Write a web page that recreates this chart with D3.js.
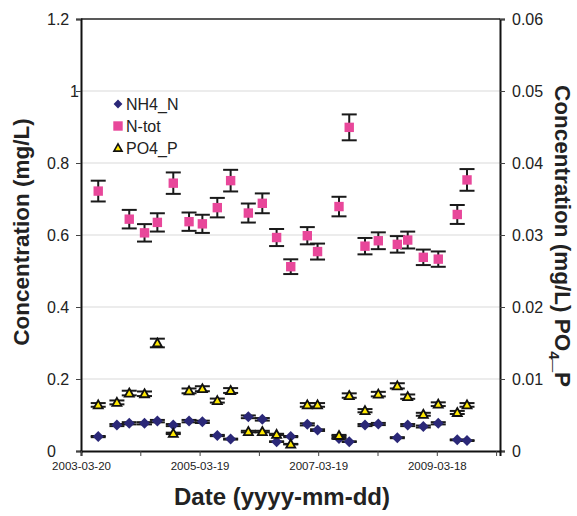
<!DOCTYPE html>
<html>
<head>
<meta charset="utf-8">
<script src="https://cdn.jsdelivr.net/npm/d3@7"></script>
<style>
  html, body { margin: 0; padding: 0; background: #fff; }
  svg { display: block; font-family: "Liberation Sans", Arial, sans-serif; }
</style>
</head>
<body>
<svg id="chart" width="577" height="516"></svg>
<script>
// Sampling dates (shared by all three series)
const sampleDates = [
  "2003-07-04", "2003-10-27", "2004-01-11", "2004-04-14", "2004-07-02", "2004-10-08",
  "2005-01-13", "2005-04-05", "2005-07-06", "2005-09-26", "2006-01-13", "2006-04-09",
  "2006-07-06", "2006-10-01", "2007-01-11", "2007-03-15", "2007-07-25", "2007-09-26",
  "2008-01-01", "2008-03-23", "2008-07-18", "2008-09-20", "2008-12-25", "2009-03-27",
  "2009-07-22", "2009-09-20"
];
// NH4_N, mg/L (left axis)
const nh4N = [
  0.040, 0.072, 0.077, 0.077, 0.083, 0.072,
  0.083, 0.081, 0.043, 0.033, 0.095, 0.088,
  0.026, 0.040, 0.074, 0.058, 0.035, 0.026,
  0.072, 0.075, 0.037, 0.072, 0.068, 0.077,
  0.031, 0.029
];
// N-tot, mg/L (left axis); no sample on 2003-10-27
const nTot = [
  0.722, null, 0.644, 0.606, 0.635, 0.744,
  0.637, 0.631, 0.676, 0.751, 0.661, 0.688,
  0.593, 0.512, 0.598, 0.554, 0.679, 0.899,
  0.569, 0.584, 0.574, 0.586, 0.538, 0.533,
  0.657, 0.753
];
// PO4_P, mg/L (right axis)
const po4P = [
  0.0064, 0.00675, 0.00805, 0.00795, 0.0150, 0.00245,
  0.00835, 0.00865, 0.0070, 0.0084, 0.0027, 0.0027,
  0.0023, 0.00095, 0.0064, 0.0064, 0.00215, 0.0077,
  0.0056, 0.0079, 0.00905, 0.00755, 0.0051, 0.0065,
  0.00535, 0.0064
];
// Relative uncertainty shown by the error bars
const errorFraction = 0.04;

// Axis settings
const xStart = "2003-03-20";
const xEnd = "2010-04-11";
const xTickStepDays = 365;
const xTickCount = 8;
const leftTicks = [0, 0.2, 0.4, 0.6, 0.8, 1, 1.2];
const rightTicks = [0, 0.01, 0.02, 0.03, 0.04, 0.05, 0.06];

const legendItems = ["NH4_N", "N-tot", "PO4_P"];

const parse = d3.utcParse("%Y-%m-%d");
const fmt = d3.utcFormat("%Y-%m-%d");

const svg = d3.select("#chart");
const m = { left: 81, right: 500, top: 19, bottom: 451 };

const x = d3.scaleUtc().domain([parse(xStart), parse(xEnd)]).range([m.left, m.right]);
const yL = d3.scaleLinear().domain([0, 1.2]).range([m.bottom, m.top]);
const yR = d3.scaleLinear().domain([0, 0.06]).range([m.bottom, m.top]);

const xTicks = d3.range(xTickCount).map(i => d3.utcDay.offset(parse(xStart), i * xTickStepDays));

// Gridlines
svg.append("g")
  .selectAll("line")
  .data(leftTicks.filter(v => v > 0 && v < 1.2))
  .join("line")
  .attr("x1", m.left).attr("x2", m.right)
  .attr("y1", d => yL(d)).attr("y2", d => yL(d))
  .attr("stroke", "#d9d9d9").attr("stroke-width", 1.2);

// Top border of the plot area
svg.append("line")
  .attr("x1", m.left).attr("x2", m.right)
  .attr("y1", m.top).attr("y2", m.top)
  .attr("stroke", "#222").attr("stroke-width", 1.5);

// Left axis
const gL = svg.append("g").attr("transform", `translate(${m.left},0)`)
  .call(d3.axisLeft(yL).tickValues(leftTicks).tickSize(5).tickFormat(() => ""));
gL.select(".domain").attr("stroke", "#111").attr("stroke-width", 2);
gL.selectAll(".tick line").attr("stroke", "#444").attr("stroke-width", 1);
svg.append("g").selectAll("text")
  .data(leftTicks)
  .join("text")
  .attr("x", d => (d === 1 ? 70 : 47))
  .attr("y", d => yL(d))
  .attr("dy", "0.35em")
  .attr("font-size", 16)
  .attr("fill", "#222")
  .text(d => String(d));

// Right axis
const gR = svg.append("g").attr("transform", `translate(${m.right},0)`)
  .call(d3.axisRight(yR).tickValues(rightTicks).tickSize(5).tickFormat(() => ""));
gR.select(".domain").attr("stroke", "#111").attr("stroke-width", 2);
gR.selectAll(".tick line").attr("stroke", "#444").attr("stroke-width", 1);
svg.append("g").selectAll("text")
  .data(rightTicks)
  .join("text")
  .attr("x", 512)
  .attr("y", d => yR(d))
  .attr("dy", "0.35em")
  .attr("font-size", 16)
  .attr("fill", "#222")
  .text(d => String(d));

// Bottom axis (labels on every second tick)
const gB = svg.append("g").attr("transform", `translate(0,${m.bottom})`)
  .call(d3.axisBottom(x).tickValues(xTicks).tickSize(5)
    .tickFormat((d, i) => (i % 2 === 0 ? fmt(d) : "")));
gB.select(".domain").attr("stroke", "#111").attr("stroke-width", 2);
gB.selectAll(".tick line").attr("stroke", "#444").attr("stroke-width", 1);
gB.selectAll(".tick text")
  .attr("font-family", "Liberation Sans, Arial, sans-serif")
  .attr("font-size", 11.5).attr("fill", "#222").attr("dy", "0.95em");

// Axis titles
svg.append("text")
  .attr("x", 282).attr("y", 505)
  .attr("text-anchor", "middle")
  .attr("font-size", 24).attr("font-weight", "bold").attr("fill", "#222")
  .text("Date (yyyy-mm-dd)");

svg.append("text")
  .attr("transform", "translate(29,232) rotate(-90)")
  .attr("text-anchor", "middle")
  .attr("font-size", 22.5).attr("font-weight", "bold").attr("fill", "#222")
  .text("Concentration (mg/L)");

const rt = svg.append("text")
  .attr("transform", "translate(555,236) rotate(90)")
  .attr("text-anchor", "middle")
  .attr("font-size", 22.5).attr("font-weight", "bold").attr("fill", "#222");
rt.append("tspan").text("Concentration (mg/L) PO");
rt.append("tspan").attr("font-size", 15).attr("dy", 6).text("4");
rt.append("tspan").attr("dy", -6).text("_P");

// Marker shapes
const diamondPath = "M0,-5.5L5.5,0L0,5.5L-5.5,0Z";
const squarePath = "M-4.7,-4.7H4.7V4.7H-4.7Z";
const trianglePath = "M0,-4.5L4.5,3.5H-4.5Z";

const colors = { nh4: "#2b2878", ntot: "#e8479a", po4: "#ffe800" };

function series(values) {
  return sampleDates
    .map((d, i) => ({ date: parse(d), v: values[i] }))
    .filter(p => p.v !== null);
}

function drawErrorBars(data, yScale, capW) {
  const g = svg.append("g").attr("stroke", "#1a1a1a").attr("stroke-width", 2).attr("fill", "none");
  data.forEach(p => {
    const cx = x(p.date);
    const yTop = yScale(p.v * (1 + errorFraction));
    const yBot = yScale(p.v * (1 - errorFraction));
    g.append("line").attr("x1", cx).attr("x2", cx).attr("y1", yTop).attr("y2", yBot);
    g.append("line").attr("x1", cx - capW / 2).attr("x2", cx + capW / 2).attr("y1", yTop).attr("y2", yTop);
    g.append("line").attr("x1", cx - capW / 2).attr("x2", cx + capW / 2).attr("y1", yBot).attr("y2", yBot);
  });
}

function drawMarkers(data, yScale, path, fill, stroke, sw) {
  svg.append("g").selectAll("path")
    .data(data)
    .join("path")
    .attr("d", path)
    .attr("transform", p => `translate(${x(p.date)},${yScale(p.v)})`)
    .attr("fill", fill)
    .attr("stroke", stroke)
    .attr("stroke-width", sw);
}

const nh4Data = series(nh4N);
const ntotData = series(nTot);
const po4Data = series(po4P);

drawErrorBars(nh4Data, yL, 15);
drawMarkers(nh4Data, yL, diamondPath, colors.nh4, "none", 0);

drawErrorBars(ntotData, yL, 15);
drawMarkers(ntotData, yL, squarePath, colors.ntot, "none", 0);

drawErrorBars(po4Data, yR, 15);
drawMarkers(po4Data, yR, trianglePath, colors.po4, "#111", 1.8);

// Legend
const legend = svg.append("g").attr("transform", "translate(118,104)");
const legendShapes = [
  { path: diamondPath, fill: colors.nh4, stroke: "none", sw: 0, scale: 0.8 },
  { path: squarePath, fill: colors.ntot, stroke: "none", sw: 0, scale: 1 },
  { path: trianglePath, fill: colors.po4, stroke: "#111", sw: 1.8, scale: 0.9 }
];
legendItems.forEach((name, i) => {
  const row = legend.append("g").attr("transform", `translate(0,${i * 22})`);
  const s = legendShapes[i];
  row.append("path")
    .attr("d", s.path)
    .attr("transform", `scale(${s.scale})`)
    .attr("fill", s.fill).attr("stroke", s.stroke).attr("stroke-width", s.sw);
  row.append("text")
    .attr("x", 8).attr("dy", "0.35em")
    .attr("font-size", 16).attr("fill", "#222")
    .text(name);
});
</script>
</body>
</html>
